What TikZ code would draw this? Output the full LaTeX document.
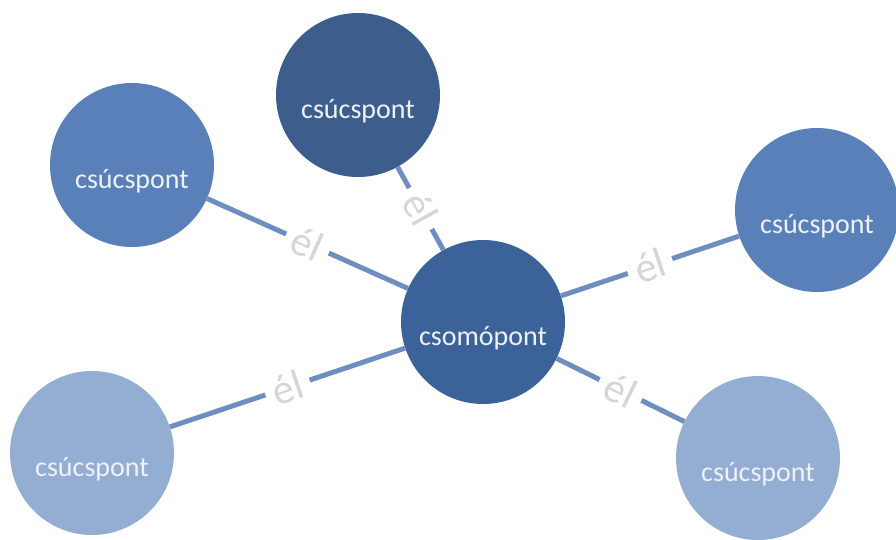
\documentclass[tikz,border=0pt]{standalone}
\usepackage{fontspec}
\setmainfont{Carlito}
\usepackage[dvipsnames]{xcolor}

\definecolor{hubblue}{HTML}{3B6399}
\definecolor{topblue}{HTML}{3D5E8D}
\definecolor{midblue}{HTML}{5A80B9}
\definecolor{paleblue}{HTML}{94ADD3}
\definecolor{edgeblue}{HTML}{6E8EC0}
\definecolor{labelgray}{HTML}{D6D6D6}
\definecolor{nodetext}{HTML}{EEF2F8}

\begin{document}
\begin{tikzpicture}[x=1pt,y=-1pt,main node/.style={circle,minimum size=164pt,inner sep=0pt,text=nodetext,text height=50pt,text depth=4pt,font=\fontsize{28}{34}\selectfont},edge label/.style={midway,fill=white,inner xsep=8pt,inner ysep=2pt,sloped,text=labelgray,font=\fontsize{42}{48}\selectfont}]

            \useasboundingbox (0,0) rectangle (896,539);

            \node[main node, fill=hubblue]  (0) at (483,322) {csomópont};
            \node[main node, fill=topblue]  (1) at (358,95)  {csúcspont};
            \node[main node, fill=midblue]  (2) at (132,165) {csúcspont};
            \node[main node, fill=midblue]  (3) at (817,210) {csúcspont};
            \node[main node, fill=paleblue] (4) at (92,453)  {csúcspont};
            \node[main node, fill=paleblue] (5) at (758,458) {csúcspont};

            % \path[every node/.style={font=\small}]

            \draw[-, edgeblue, line width=5pt] (1) to node[edge label]{él} (0);
            \draw[-, edgeblue, line width=5pt] (2) to node[edge label]{él} (0);
            \draw[-, edgeblue, line width=5pt] (0) to node[edge label]{él} (3);
            \draw[-, edgeblue, line width=5pt] (4) to node[edge label]{él} (0);
            \draw[-, edgeblue, line width=5pt] (0) to node[edge label]{él} (5);

            ;
        \end{tikzpicture}
\end{document}
